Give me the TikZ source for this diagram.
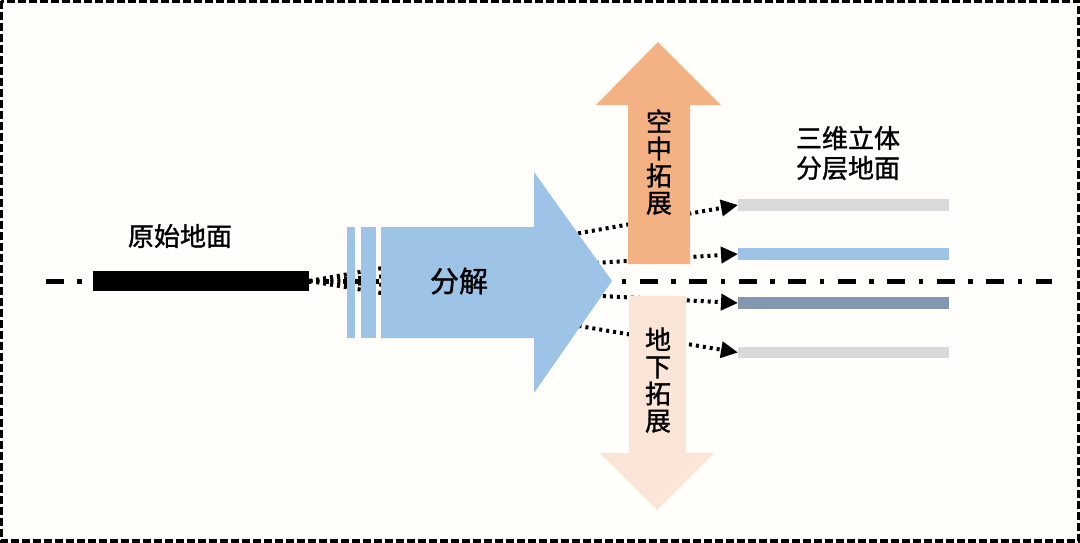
\documentclass[tikz,border=0pt]{standalone}
\usepackage{fontspec}
\usepackage{tikz}
\usetikzlibrary{arrows.meta}
\newfontfamily\cjk[FakeBold=1.2]{Noto Sans CJK SC}
\definecolor{paper}{HTML}{FFFEFB}
\definecolor{sky}{HTML}{9DC3E6}
\definecolor{peach}{HTML}{F4B183}
\definecolor{blush}{HTML}{FBE5D6}
\definecolor{slate}{HTML}{8497B0}
\definecolor{ash}{HTML}{D9D9D9}

\begin{document}
\begin{tikzpicture}[x=0.02cm, y=-0.02cm,
		label_style/.style={font=\cjk\fontsize{14.8}{17}\selectfont, align=center, inner sep=0pt},
		stack_style/.style={label_style, font=\cjk\fontsize{14.8}{15.4}\selectfont},
		layer_style/.style={rectangle, anchor=west, inner sep=0pt, minimum width=4.22cm, minimum height=0.23cm},
		link_style/.style={draw=black, line width=0.08cm, dash pattern=on 0.06cm off 0.08cm, -{Triangle[length=0.34cm,width=0.32cm]}},
		axis_style/.style={draw=black, line width=0.1cm, dash pattern=on 0.36cm off 0.27cm on 0.09cm off 0.27cm}]
		
		\useasboundingbox (0,0) rectangle (1080,542);
		\fill[paper] (0,0) rectangle (1080,542);
		\draw[black, line width=0.07cm, dash pattern=on 0.16cm off 0.06cm] (1,1) rectangle (1079,541);
		
		\coordinate (axis_l) at (46,281.5);
		\coordinate (axis_r) at (1052,281.5);
		\draw[axis_style] (axis_l) -- (axis_r);
		
		\node[rectangle, fill=black, inner sep=0pt, minimum width=4.32cm, minimum height=0.4cm] (ground) at (201,281) {};
		\node[layer_style, fill=ash] (layer1) at (738,205) {};
		\node[layer_style, fill=sky] (layer2) at (738,254) {};
		\node[layer_style, fill=slate] (layer3) at (738,303) {};
		\node[layer_style, fill=ash] (layer4) at (738,352.5) {};
		
		\draw[link_style] (ground.east) -- (layer1.west);
		\draw[link_style] (ground.east) -- (layer2.west);
		\draw[link_style] (ground.east) -- (layer3.west);
		\draw[link_style] (ground.east) -- (layer4.west);
		
		\fill[sky] (347,227) rectangle (355,338);
		\fill[sky] (361,227) rectangle (376,338);
		\fill[sky] (381,227) -- (534,227) -- (534,172) -- (612,281) -- (534,393) -- (534,338) -- (381,338) -- cycle;
		\fill[peach] (628,264) -- (628,105) -- (596,105) -- (658,42) -- (721,105) -- (690,105) -- (690,264) -- cycle;
		\fill[blush] (629,296) -- (629,453) -- (600,453) -- (657,510) -- (714,453) -- (686,453) -- (686,296) -- cycle;
		
		\node[label_style] (ground_text) at (180,236) {原始地面};
		\node[label_style, font=\cjk\fontsize{16.5}{19}\selectfont] (split_text) at (459,281) {分解};
		\node[stack_style] (air_text) at (659,162) {空\\中\\拓\\展};
		\node[stack_style] (under_text) at (658,380) {地\\下\\拓\\展};
		\node[label_style] (layer_text) at (848,153) {三维立体\\分层地面};
		
\end{tikzpicture}
\end{document}
